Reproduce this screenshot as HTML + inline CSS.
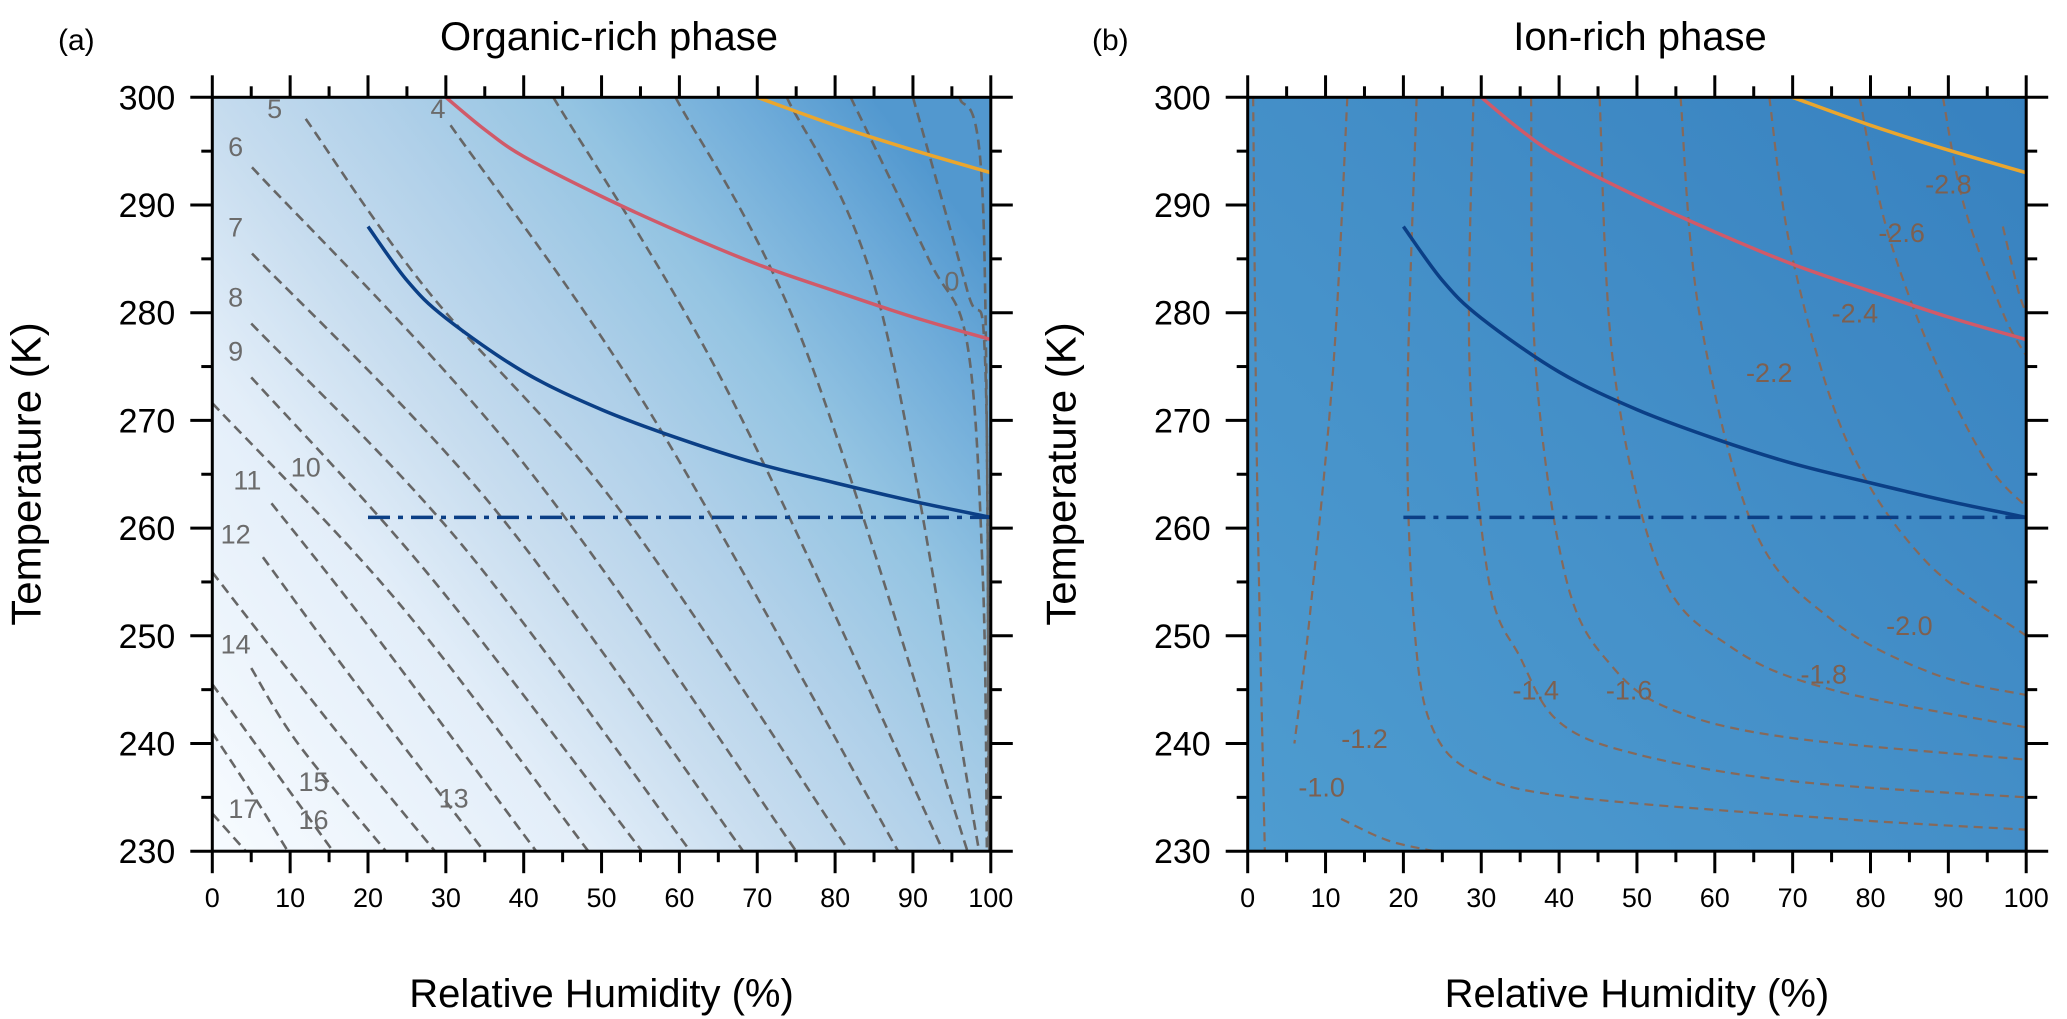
<!DOCTYPE html>
<html><head><meta charset="utf-8">
<style>
html,body{margin:0;padding:0;background:#fff;}
svg{display:block;font-family:"Liberation Sans",Arial,sans-serif;}
</style></head>
<body>
<svg id="chart" width="2067" height="1019" viewBox="0 0 2067 1019" xmlns="http://www.w3.org/2000/svg">
<defs>
<linearGradient id="gradL" gradientUnits="userSpaceOnUse" x1="212" y1="851" x2="991" y2="250">
<stop offset="0" stop-color="#f7fbff"/><stop offset="0.3" stop-color="#e3eef9"/><stop offset="0.45" stop-color="#c8ddef"/><stop offset="0.6" stop-color="#b0d0e9"/><stop offset="0.75" stop-color="#94c4e2"/><stop offset="0.9" stop-color="#6eabd9"/><stop offset="1" stop-color="#5298cf"/>
</linearGradient>
<linearGradient id="gradR" gradientUnits="userSpaceOnUse" x1="1248" y1="851" x2="2026" y2="97">
<stop offset="0" stop-color="#4e9cd0"/><stop offset="0.5" stop-color="#448fc8"/><stop offset="1" stop-color="#3781bf"/>
</linearGradient>
<clipPath id="clipL"><rect x="212.3" y="97.3" width="778.7" height="753.9"/></clipPath>
<clipPath id="clipR"><rect x="1247.7" y="97.3" width="778.3" height="753.9"/></clipPath>
</defs>
<g id="panelL"></g>
<g id="panelR"></g>
</svg>
<script>
// ---- data ----
const xTicks = [0,10,20,30,40,50,60,70,80,90,100];
const yTicks = [230,240,250,260,270,280,290,300];
const orangeCurve = [[70,300],[80,297.4],[90,295.1],[100,293]];
const redCurve = [[30,300],[35,297],[40,294.5],[50,290.8],[60,287.5],[70,284.5],[80,282],[90,279.6],[100,277.5]];
const blueCurve = [[20,288],[25,283],[30,279.5],[40,274.5],[50,271],[60,268.3],[70,266],[80,264.2],[90,262.5],[100,261]];
const dashDotLine = [[20,261],[100,261]];
const leftContours = [
 [[0,233.5],[4.3,230]],
 [[0,241],[5,235.5],[9.7,230]],
 [[0,245.5],[8,237.5],[15.5,230]],
 [[5,247],[11,240],[22.3,230]],
 [[0,255.9],[15,242],[28.6,230]],
 [[6.5,257.3],[18,246],[34.9,230]],
 [[7.6,262.3],[21,250],[41.6,230]],
 [[0,271.6],[24,253],[48.3,230]],
 [[5,274],[28,255.5],[55.2,230]],
 [[5,279],[32,258.5],[61.4,230]],
 [[5.1,285.5],[36,262],[68.2,230]],
 [[5.1,293.5],[40,266],[75,230]],
 [[12,298],[27.7,282],[52,262],[81.8,230]],
 [[30.6,297.4],[56,271],[88.1,230]],
 [[43.8,300],[66,273],[93.9,230]],
 [[59.5,300],[76,277],[97,230]],
 [[73.8,300],[86,280],[98.5,230]],
 [[82,300],[92,285],[97,277],[99,255],[99.5,230]],
 [[90,300],[97,282],[99.3,275],[99.7,230]],
 [[96,300],[99,290],[99.8,230]]
];
const leftLabels = ["5","4","6","7","8","9","10","11","12","14","15","16","17","13","0"];
const leftLabelPos = [[8,299],[29,299],[3,295.5],[3,288],[3,281.5],[3,276.5],[12,265.7],[4.5,264.5],[3,259.5],[3,249.3],[13,236.5],[13,233],[4,234],[31,235],[95,283]];
const rightContours = [
 [[0.7,300],[1.2,265],[2.2,230]],
 [[12.8,300],[11,275],[8,252],[6,240]],
 [[12,233],[18,231],[24,230]],
 [[21.7,300],[20.5,270],[21.5,250],[24,241],[30,237],[42,235],[76,233],[100,232]],
 [[29,300],[28.5,275],[31,255],[35,248],[40,242],[50,239],[70,236.5],[100,235]],
 [[36.4,300],[37,275],[41,255],[47,247],[55,243],[70,240.5],[100,238.5]],
 [[45.2,300],[47,275],[53,256],[62,249],[75,245],[100,241.5]],
 [[55.6,300],[58,280],[65,260],[75,251.5],[88,246.5],[100,244.5]],
 [[67,300],[70,285],[77,268],[87,257],[100,250]],
 [[78.6,300],[82,288],[88,276],[95,266],[100,262]],
 [[89.3,300],[92,290],[97,280],[100,276]],
 [[97,288],[99,282],[100,280]]
];
const rightLabels = ["-1.0","-1.2","-1.4","-1.6","-1.8","-2.0","-2.2","-2.4","-2.6","-2.8"];
const rightLabelPos = [[9.5,236],[15,240.5],[37,245],[49,245],[74,246.5],[85,251],[67,274.5],[78,280],[84,287.5],[90,292]];

const NS="http://www.w3.org/2000/svg";
function mk(tag,attrs,parent){const e=document.createElementNS(NS,tag);for(const k in attrs)e.setAttribute(k,attrs[k]);parent.appendChild(e);return e;}

function drawPanel(g,x0,bg,clip,contours,cStyle,labels,labelPos,labelColor,title,tag,tagX,titleX){
  const W=778.5, top=97.3, bot=851.2;
  const X=v=>x0+v/100*W;
  const Y=v=>top+(300-v)/70*(bot-top);
  const bgR=mk('rect',{x:x0,y:top,width:W,height:bot-top,fill:bg},g);
  
  
  const cg=mk('g',{'clip-path':clip},g);
  
  
  const path=pts=>{
    let d='M'+X(pts[0][0])+' '+Y(pts[0][1]);
    if(pts.length===2){d+=' L'+X(pts[1][0])+' '+Y(pts[1][1]);return d;}
    for(let i=1;i<pts.length;i++){
      const p0=pts[Math.max(i-2,0)],p1=pts[i-1],p2=pts[i],p3=pts[Math.min(i+1,pts.length-1)];
      const c1x=X(p1[0])+(X(p2[0])-X(p0[0]))/6,c1y=Y(p1[1])+(Y(p2[1])-Y(p0[1]))/6;
      const c2x=X(p2[0])-(X(p3[0])-X(p1[0]))/6,c2y=Y(p2[1])-(Y(p3[1])-Y(p1[1]))/6;
      d+=' C'+c1x+' '+c1y+' '+c2x+' '+c2y+' '+X(p2[0])+' '+Y(p2[1]);
    }
    return d;
  };
  contours.forEach(c=>{
    const p=mk('path',{d:path(c),fill:'none',stroke:cStyle.color,'stroke-width':cStyle.w,'stroke-dasharray':cStyle.dash},cg);
    
    
  });
  labels.forEach((t,i)=>{
    const e=mk('text',{x:X(labelPos[i][0]),y:Y(labelPos[i][1])+10,'font-size':27,fill:labelColor,'text-anchor':'middle'},cg);
    e.textContent=t;
    
    
  });
  const curves=[[orangeCurve,'#eaa62e','none','orange-curve'],[redCurve,'#d05a69','none','red-curve'],[blueCurve,'#0b3f86','none','blue-curve'],[dashDotLine,'#0b3f86','22 8 5 8','dash-dot-line']];
  curves.forEach(c=>{
    const p=mk('path',{d:path(c[0]),fill:'none',stroke:c[1],'stroke-width':3.5,'stroke-dasharray':c[2]},cg);
    
    
  });
  const ax=mk('g',{stroke:'#000','stroke-width':3,fill:'none'},g);
  
  
  mk('rect',{x:x0,y:top,width:W,height:bot-top},ax);
  for(let v=0;v<=100;v+=5){
    const L=v%10===0?22:11;
    mk('line',{x1:X(v),x2:X(v),y1:bot,y2:bot+L},ax);
    mk('line',{x1:X(v),x2:X(v),y1:top,y2:top-L},ax);
  }
  for(let v=230;v<=300;v+=5){
    const L=v%10===0?22:11;
    mk('line',{x1:x0,x2:x0-L,y1:Y(v),y2:Y(v)},ax);
    mk('line',{x1:x0+W,x2:x0+W+L,y1:Y(v),y2:Y(v)},ax);
  }
  xTicks.forEach(v=>{
    const t=mk('text',{x:X(v),y:907,'font-size':27,'text-anchor':'middle',fill:'#000'},g);
    t.textContent=v;
    
    
  });
  yTicks.forEach(v=>{
    const t=mk('text',{x:x0-37,y:Y(v)+12,'font-size':34,'text-anchor':'end',fill:'#000'},g);
    t.textContent=v;
    
    
  });
  const xt=mk('text',{x:x0+W/2,y:1007,'font-size':40,'text-anchor':'middle',fill:'#000'},g);
  xt.textContent='Relative Humidity (%)';
  
  
  const yx=x0-172;
  const yt=mk('text',{x:yx,y:474,'font-size':42,'text-anchor':'middle',fill:'#000',transform:'rotate(-90 '+yx+' 474)'},g);
  yt.textContent='Temperature (K)';
  
  
  const tt=mk('text',{x:titleX,y:50,'font-size':40,'text-anchor':'middle',fill:'#000'},g);
  tt.textContent=title;
  
  
  const tg=mk('text',{x:tagX,y:50,'font-size':30,fill:'#000'},g);
  tg.textContent=tag;
  
  
}
drawPanel(document.getElementById('panelL'),212.3,'url(#gradL)','url(#clipL)',leftContours,{color:'#666',w:2.6,dash:'10 6'},leftLabels,leftLabelPos,'#6b6b6b','Organic-rich phase','(a)',58,609);
drawPanel(document.getElementById('panelR'),1247.7,'url(#gradR)','url(#clipR)',rightContours,{color:'#86695a',w:2.2,dash:'9 6'},rightLabels,rightLabelPos,'#7d6050','Ion-rich phase','(b)',1092,1640);
</script>
</body></html>
